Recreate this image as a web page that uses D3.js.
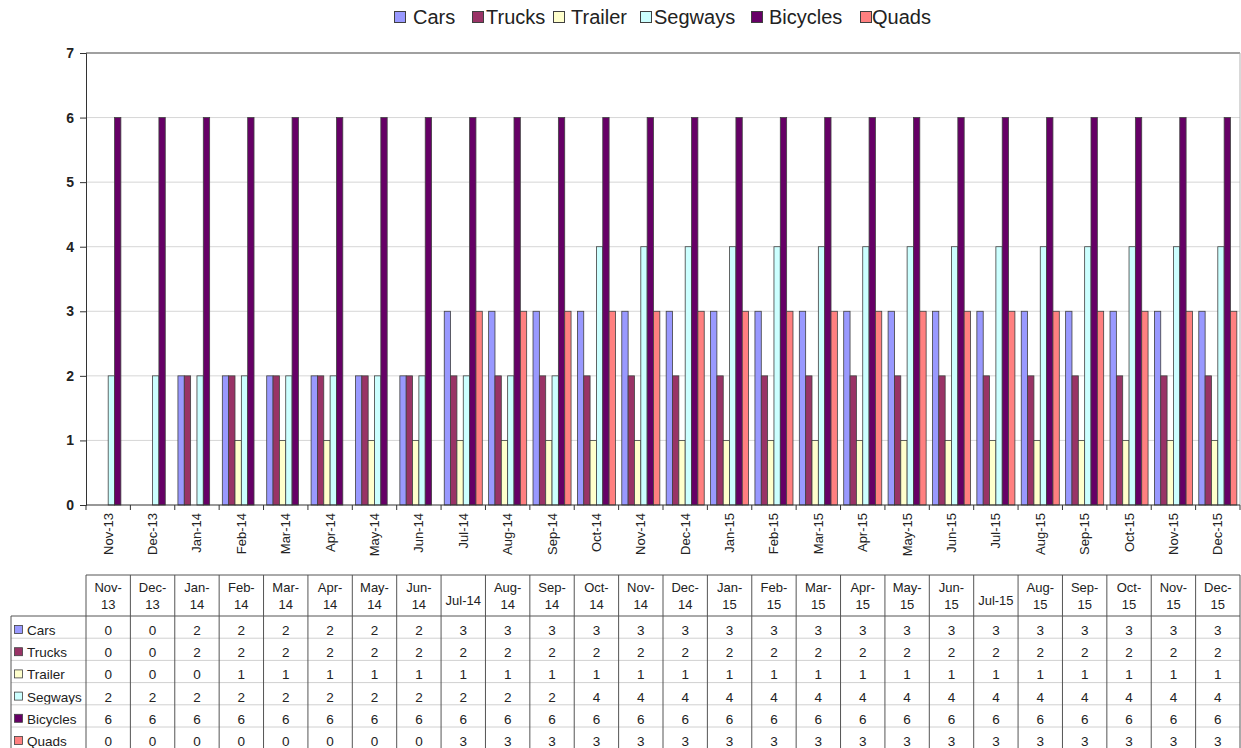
<!DOCTYPE html>
<html>
<head>
<meta charset="utf-8">
<script src="https://cdn.jsdelivr.net/npm/d3@7"></script>
<style>
  body { margin: 0; background: #fff; }
  text { font-family: "Liberation Sans", Arial, sans-serif; }
</style>
</head>
<body>
<div id="chart"></div>
<script>
const months = ["Nov-13","Dec-13","Jan-14","Feb-14","Mar-14","Apr-14","May-14","Jun-14","Jul-14","Aug-14","Sep-14","Oct-14","Nov-14","Dec-14","Jan-15","Feb-15","Mar-15","Apr-15","May-15","Jun-15","Jul-15","Aug-15","Sep-15","Oct-15","Nov-15","Dec-15"];
const seriesNames = ["Cars","Trucks","Trailer","Segways","Bicycles","Quads"];
const seriesColors = ["#9999ff","#993366","#ffffcc","#ccffff","#660066","#ff8080"];
const cars     = [0,0,2,2,2,2,2,2,3,3,3,3,3,3,3,3,3,3,3,3,3,3,3,3,3,3];
const trucks   = [0,0,2,2,2,2,2,2,2,2,2,2,2,2,2,2,2,2,2,2,2,2,2,2,2,2];
const trailer  = [0,0,0,1,1,1,1,1,1,1,1,1,1,1,1,1,1,1,1,1,1,1,1,1,1,1];
const segways  = [2,2,2,2,2,2,2,2,2,2,2,4,4,4,4,4,4,4,4,4,4,4,4,4,4,4];
const bicycles = [6,6,6,6,6,6,6,6,6,6,6,6,6,6,6,6,6,6,6,6,6,6,6,6,6,6];
const quads    = [0,0,0,0,0,0,0,0,3,3,3,3,3,3,3,3,3,3,3,3,3,3,3,3,3,3];
const yTicks = [0,1,2,3,4,5,6,7];

const seriesValues = [cars, trucks, trailer, segways, bicycles, quads];

const W = 1241, H = 748;
const plot = { left: 86, right: 1240, top: 53, bottom: 505 };

const svg = d3.select("#chart").append("svg")
  .attr("width", W).attr("height", H);

const x = d3.scaleBand().domain(months).range([plot.left, plot.right]).padding(0);
const xSub = d3.scaleBand().domain(seriesNames).range([0, x.bandwidth()])
  .paddingInner(0).paddingOuter(0.5);
const y = d3.scaleLinear().domain([0, 7]).range([plot.bottom, plot.top]);
const color = d3.scaleOrdinal().domain(seriesNames).range(seriesColors);

// gridlines
svg.append("g").selectAll("line")
  .data(yTicks.filter(d => d > 0 && d < 7))
  .enter().append("line")
  .attr("x1", plot.left).attr("x2", plot.right)
  .attr("y1", d => y(d)).attr("y2", d => y(d))
  .attr("stroke", "#d6d6d6").attr("stroke-width", 1);

// plot frame
svg.append("line").attr("x1", plot.left).attr("x2", plot.right)
  .attr("y1", y(7)).attr("y2", y(7)).attr("stroke", "#808080").attr("stroke-width", 1.5);
svg.append("line").attr("x1", plot.right).attr("x2", plot.right)
  .attr("y1", y(7)).attr("y2", y(0)).attr("stroke", "#b3b3b3").attr("stroke-width", 1);

// bars
const flat = [];
seriesNames.forEach((s, si) => {
  months.forEach((m, mi) => {
    flat.push({ month: m, series: s, value: seriesValues[si][mi] });
  });
});
svg.append("g").selectAll("rect")
  .data(flat.filter(d => d.value > 0))
  .enter().append("rect")
  .attr("x", d => x(d.month) + xSub(d.series))
  .attr("width", xSub.bandwidth())
  .attr("y", d => y(d.value))
  .attr("height", d => y(0) - y(d.value))
  .attr("fill", d => color(d.series))
  .attr("stroke", "#404040").attr("stroke-width", 0.8);

// y axis
const yAxis = svg.append("g")
  .attr("transform", "translate(" + plot.left + ",0)")
  .call(d3.axisLeft(y).tickValues(yTicks).tickSize(6).tickPadding(6).tickFormat(d3.format("d")));
yAxis.select(".domain").attr("stroke", "#333");
yAxis.selectAll(".tick line").attr("stroke", "#333");
yAxis.selectAll("text").attr("font-size", 14).attr("fill", "#222")
  .attr("font-family", "Liberation Sans, Arial, sans-serif").attr("font-weight", "bold");

// x axis (base line + category ticks at band borders)
svg.append("line").attr("x1", plot.left).attr("x2", plot.right)
  .attr("y1", y(0)).attr("y2", y(0)).attr("stroke", "#333").attr("stroke-width", 1.2);
svg.append("g").selectAll("line")
  .data(months.concat(["__end"]))
  .enter().append("line")
  .attr("x1", (d, i) => plot.left + i * x.step())
  .attr("x2", (d, i) => plot.left + i * x.step())
  .attr("y1", y(0)).attr("y2", y(0) + 5)
  .attr("stroke", "#333");

svg.append("g").selectAll("text")
  .data(months)
  .enter().append("text")
  .attr("transform", d => "translate(" + (x(d) + x.bandwidth() / 2 + 4.5) + "," + (plot.bottom + 8) + ") rotate(-90)")
  .attr("text-anchor", "end")
  .attr("font-size", 13)
  .attr("fill", "#222")
  .text(d => d);

// legend
const legendBoxX = [394, 472, 553, 640, 751, 860];
const legendTextX = [413, 486, 571, 654, 769, 872];
const legend = svg.append("g").selectAll("g")
  .data(seriesNames).enter().append("g");
legend.append("rect")
  .attr("x", (d, i) => legendBoxX[i] + 0.5).attr("y", 11.5).attr("width", 11).attr("height", 11)
  .attr("fill", d => color(d)).attr("stroke", "#404040").attr("stroke-width", 1);
legend.append("text")
  .attr("x", (d, i) => legendTextX[i]).attr("y", 23.5)
  .attr("font-size", 20).attr("fill", "#222")
  .text(d => d);

// data table
const table = { top: 575, headBottom: 616, rowH: 22.2, labelLeft: 11 };
const tg = svg.append("g");

// header cells text
months.forEach(m => {
  const cx = x(m) + x.bandwidth() / 2;
  const t = tg.append("text")
    .attr("x", cx).attr("text-anchor", "middle")
    .attr("font-size", 13).attr("fill", "#222");
  t.text(m);
  const w = t.node().getComputedTextLength();
  if (w > 37) {
    const parts = m.split("-");
    t.text(null);
    t.append("tspan").attr("x", cx).attr("y", table.top + 17).text(parts[0] + "-");
    t.append("tspan").attr("x", cx).attr("y", table.top + 34).text(parts[1]);
  } else {
    t.attr("y", table.top + 30);
  }
});

// row labels and values
seriesNames.forEach((s, si) => {
  const rowTop = table.headBottom + si * table.rowH;
  const base = rowTop + 19;
  tg.append("rect")
    .attr("x", 14.5).attr("y", base - 9.5).attr("width", 8).attr("height", 8)
    .attr("fill", color(s)).attr("stroke", "#404040").attr("stroke-width", 0.8);
  tg.append("text")
    .attr("x", 27).attr("y", base)
    .attr("font-size", 13.5).attr("fill", "#222")
    .text(s);
  months.forEach((m, mi) => {
    tg.append("text")
      .attr("x", x(m) + x.bandwidth() / 2).attr("y", base)
      .attr("text-anchor", "middle")
      .attr("font-size", 13.5).attr("fill", "#222")
      .text(seriesValues[si][mi]);
  });
});

// table grid lines
const tableBottom = table.headBottom + seriesNames.length * table.rowH;
for (let i = 0; i < seriesNames.length; i++) {
  const yy = table.headBottom + (i + 1) * table.rowH;
  tg.append("line").attr("x1", table.labelLeft).attr("x2", plot.right)
    .attr("y1", yy).attr("y2", yy).attr("stroke", "#d0d0d0");
}
tg.append("line").attr("x1", table.labelLeft).attr("x2", plot.right)
  .attr("y1", table.headBottom).attr("y2", table.headBottom).attr("stroke", "#555");
tg.append("line").attr("x1", plot.left).attr("x2", plot.right)
  .attr("y1", table.top).attr("y2", table.top).attr("stroke", "#555");
tg.append("line").attr("x1", table.labelLeft).attr("x2", table.labelLeft)
  .attr("y1", table.headBottom).attr("y2", tableBottom).attr("stroke", "#555");
months.concat(["__end"]).forEach((m, i) => {
  const xx = plot.left + i * x.step();
  tg.append("line").attr("x1", xx).attr("x2", xx)
    .attr("y1", table.top).attr("y2", tableBottom).attr("stroke", "#555");
});
</script>
</body>
</html>
